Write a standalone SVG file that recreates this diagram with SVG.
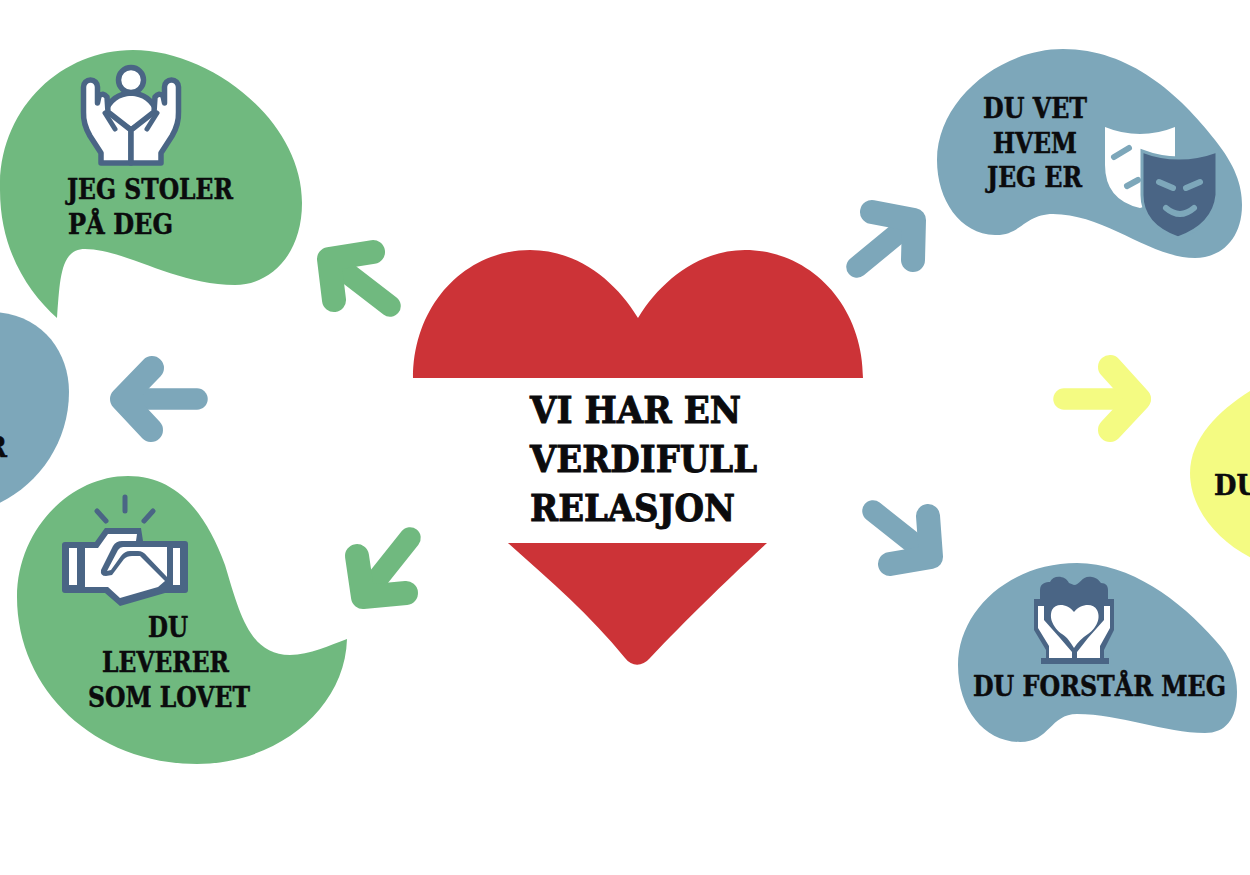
<svg xmlns="http://www.w3.org/2000/svg" width="1250" height="875" viewBox="0 0 1250 875">
<style>
.t{font-family:"DejaVu Serif","Liberation Serif",serif;font-weight:700;fill:#0b0b0d;stroke:#0b0b0d;stroke-width:.5px;font-size:27px}
.h{font-size:38px;stroke-width:1px}
.g{fill:#70b97f}.b{fill:#7da7ba}.y{fill:#f4fb82}.r{fill:#cc3337}
.ag,.ab,.ay{fill:none;stroke-width:24;stroke-linecap:round;stroke-linejoin:round}
.ag{stroke:#70b97f}.ab{stroke:#7da7ba}.ay{stroke:#f4fb82}
.s{stroke-width:21.500}
.i{fill:#fff;stroke:#4a6585;stroke-width:5.500;stroke-linejoin:round;stroke-linecap:round}
.l{fill:none;stroke:#4a6585;stroke-width:5;stroke-linecap:round;stroke-linejoin:round}
</style>
<rect width="1250" height="875" fill="#fff"/>
<g id="connectors">
<g><path class="ag s" d="M390 306L329 259"/><path class="ag" d="M373 252L329 259L334 300"/></g>
<g><path class="ag s" d="M410 538L363 597"/><path class="ag" d="M357 556L363 597L406 593"/></g>
<g><path class="ab s" d="M197 399H122"/><path class="ab" d="M152 368L122 399L151 430"/></g>
<g><path class="ab s" d="M857 267L914 220"/><path class="ab" d="M872 212L914 220L913 260"/></g>
<g><path class="ab s" d="M873 511L931 557"/><path class="ab" d="M928 516L931 557L890 564"/></g>
<g><path class="ay s" d="M1064 399H1140"/><path class="ay" d="M1110 367L1139 399L1110 430"/></g>
</g>
<g id="node-heart">
<path class="r" d="M413 378C413 305 465 250 530 250C577 250 615 280 638 318C661 280 700 250 745 250C810 250 863 305 863 378Z"/>
<path class="r" d="M508 543H767C722 585 688 618 650 658C642 667 632 667 625 658C590 615 552 582 508 543Z"/>
<text class="t h" x="530" y="423" textLength="211" lengthAdjust="spacingAndGlyphs">VI HAR EN</text>
<text class="t h" x="530" y="472" textLength="227" lengthAdjust="spacingAndGlyphs">VERDIFULL</text>
<text class="t h" x="530" y="521" textLength="205" lengthAdjust="spacingAndGlyphs">RELASJON</text>
</g>
<g id="node-stoler">
<path class="g" d="M57 318C28 292 0 250 0 190C-2 110 60 50 133 50C210 50 302 120 302 203C302 255 270 285 235 285C175 285 125 249 85 249C60 249 60 280 57 318Z"/>
<circle class="i" cx="131" cy="80" r="12.500"/>
<path class="i" d="M105 112Q112 94 131 93Q150 94 157 112L131 130Z"/>
<path class="i" d="M83.500 87A7 7 0 0 1 97.500 87V103L99 96Q103 92 107 97L108 112L131 130V163H101V153L90 136Q83 124 83.500 112Z"/><path class="l" d="M105 113L115 129"/>
<g transform="matrix(-1 0 0 1 262 0)"><path class="i" d="M83.500 87A7 7 0 0 1 97.500 87V103L99 96Q103 92 107 97L108 112L131 130V163H101V153L90 136Q83 124 83.500 112Z"/><path class="l" d="M105 113L115 129"/></g>
<text class="t" x="67" y="199" textLength="166" lengthAdjust="spacingAndGlyphs">JEG STOLER</text>
<text class="t" x="68" y="234" textLength="105" lengthAdjust="spacingAndGlyphs">PÅ DEG</text>
</g>
<g id="node-left">
<path class="b" d="M-10 312C40 312 69 350 69 392C69 445 35 490 -10 507Z"/>
<text class="t" x="7" y="457" text-anchor="end">R</text>
</g>
<g id="node-leverer">
<path class="g" d="M128 476C175 476 205 510 225 565C240 615 250 655 290 655C310 655 330 645 347 639C345 710 275 764 197 764C95 764 17 690 17 597C17 530 70 476 128 476Z"/>
<path class="l" d="M125 497V511M97 511L106 521M153 511L144 521"/>
<path fill="#4a6585" d="M65 542H95L105 528H141L143 541H185Q188 541 188 544V590Q188 593 185 593H165L120 606L105 593H65Q62 593 62 590V545Q62 542 65 542Z"/>
<path fill="#fff" d="M69 548H77V585H69ZM173 548H180V585H173ZM85 548H98L108 534H137L136 541H122Q116 541 113 546L101 570Q100 576 106 576L112 575L124 559Q127 556 132 556H140L165 581L158 587L120 598L108 587H85ZM123 547H167V577L147 556Q143 551 138 551H130Q125 551 121 556L111 570L107 571L118 550Q120 547 123 547Z"/>
<text class="t" x="148" y="637" textLength="40" lengthAdjust="spacingAndGlyphs">DU</text>
<text class="t" x="102" y="672" textLength="127" lengthAdjust="spacingAndGlyphs">LEVERER</text>
<text class="t" x="88" y="707" textLength="162" lengthAdjust="spacingAndGlyphs">SOM LOVET</text>
</g>
<g id="node-vet">
<path class="b" d="M1063 49C1130 49 1180 95 1215 140C1235 165 1242 185 1242 205C1242 240 1220 258 1195 258C1150 258 1105 214 1053 214C1025 214 1020 236 995 235C960 234 937 200 937 160C937 100 1000 49 1063 49Z"/>
<path fill="#fff" d="M1105 127Q1122 134 1140 134Q1158 134 1175 127V170Q1170 200 1140 208Q1105 200 1105 165Z"/>
<path fill="none" stroke="#7da7ba" stroke-width="6" stroke-linecap="round" d="M1114 157L1129 148M1127 186L1138 180"/>
<path fill="#4a6585" stroke="#7da7ba" stroke-width="3" d="M1142 151Q1160 158 1179 158Q1198 158 1217 151V195Q1214 225 1178 238Q1142 225 1142 195Z"/>
<path fill="none" stroke="#7da7ba" stroke-width="6" stroke-linecap="round" d="M1159 182L1173 188M1186 188L1200 182M1166 208Q1180 220 1194 208"/>
<text class="t" x="983" y="118" textLength="104" lengthAdjust="spacingAndGlyphs">DU VET</text>
<text class="t" x="993" y="153" textLength="84" lengthAdjust="spacingAndGlyphs">HVEM</text>
<text class="t" x="987" y="187" textLength="95" lengthAdjust="spacingAndGlyphs">JEG ER</text>
</g>
<g id="node-forstar">
<path class="b" d="M1077 563C1130 563 1180 600 1215 640C1232 658 1237 675 1237 692C1237 720 1225 733 1205 733C1165 733 1120 714 1077 714C1050 714 1050 742 1020 742C985 742 958 710 958 665C958 610 1010 563 1077 563Z"/>
<path fill="#4a6585" d="M1040 590C1040 583 1046 582 1050 582C1053 575 1065 575 1069 583L1074 585C1080 585 1082 575 1092 577C1098 578 1100 582 1101 583C1106 583 1108 586 1108 590V599H1114V630L1104 650V658H1109V664H1041V658H1046V650L1034 630V599H1040Z"/>
<path fill="#fff" d="M1038 606H1044V620L1060 638L1072 652V658H1049V646L1038 628ZM1110 606H1104V620L1088 638L1077 652V658H1100V646L1110 628Z"/>
<path fill="#fff" d="M1074 612C1068 604 1056 602 1052 610C1048 620 1056 630 1062 634C1068 638 1070 642 1074 648C1078 642 1082 638 1088 634C1094 630 1102 620 1097 610C1093 602 1080 604 1074 612Z"/>
<text class="t" x="973" y="696" textLength="253" lengthAdjust="spacingAndGlyphs">DU FORSTÅR MEG</text>
</g>
<g id="node-right">
<path class="y" d="M1260 385C1225 405 1190 435 1190 473C1190 510 1220 545 1260 562Z"/>
<text class="t" x="1214" y="495" textLength="45" lengthAdjust="spacingAndGlyphs">DU</text>
</g>
</svg>
